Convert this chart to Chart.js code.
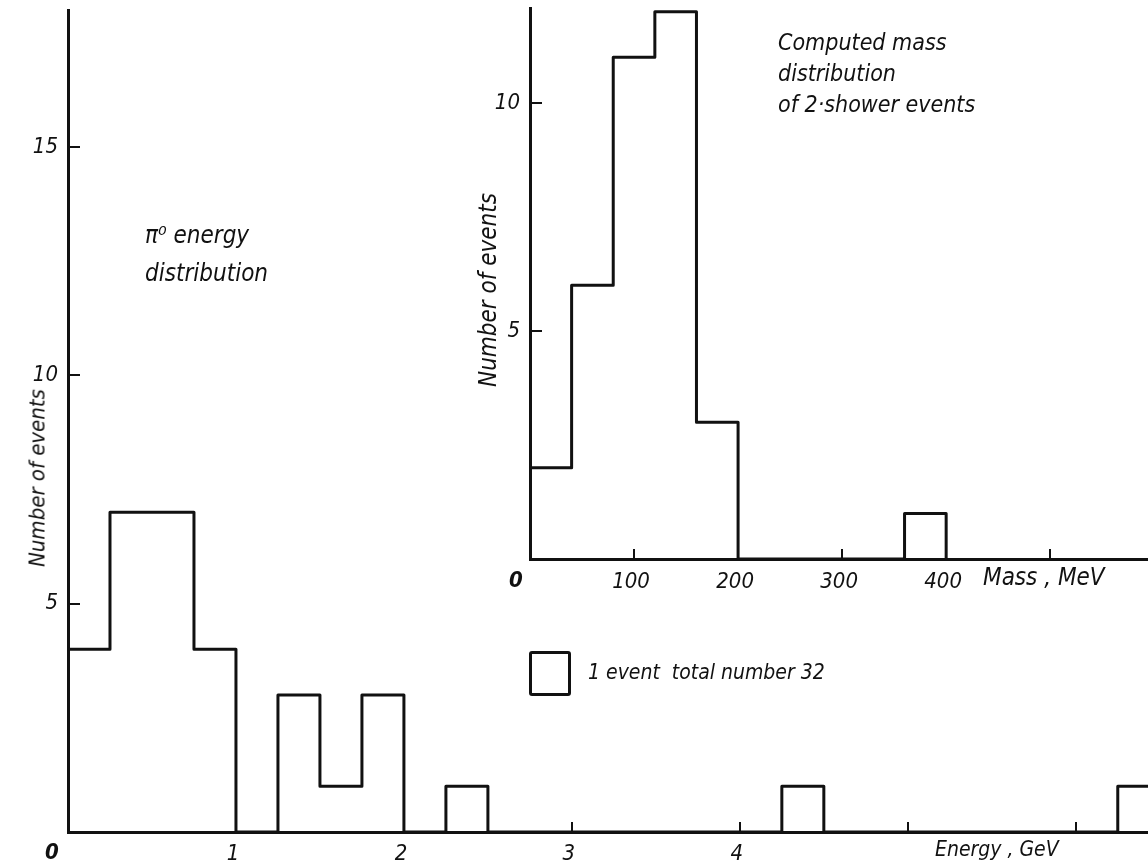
<!DOCTYPE html>
<html>
<head>
<meta charset="utf-8">
<script src="https://cdn.jsdelivr.net/npm/chart.js@4.4.1/dist/chart.umd.min.js"></script>
<style>
  html, body { margin: 0; padding: 0; background: #fff; }
  #wrap { position: relative; width: 1148px; height: 864px; overflow: hidden; }
  canvas { position: absolute; left: 0; top: 0; }
  .t {
    position: absolute;
    font-family: 'Liberation Sans Narrow', 'DejaVu Sans Condensed', sans-serif;
    font-style: italic;
    color: #111;
    white-space: nowrap;
  }
  .c { transform: translate(-50%, -50%); }
  .v { transform: translate(-50%, -50%) rotate(-90deg); }
  .box { position: absolute; border: 3px solid #111; border-radius: 3px; box-sizing: border-box; }
</style>
</head>
<body>
<div id="wrap">
  <canvas id="main" width="1148" height="864"></canvas>
  <canvas id="inset" width="1148" height="864"></canvas>

  <div class="t v" style="left:37px; top:478px; font-size:22px;">Number of events</div>
  <div class="t c" style="left:52px; top:851px; font-size:22px; font-weight:bold;">0</div>
  <div class="t" style="left:935px; top:837px; font-size:21px;">Energy , GeV</div>
  <div class="t" style="left:145px; top:216px; font-size:24px; line-height:38px;">π⁰ energy<br>distribution</div>

  <div class="t v" style="left:488px; top:290px; font-size:24px;">Number of events</div>
  <div class="t c" style="left:516px; top:579px; font-size:22px; font-weight:bold;">0</div>
  <div class="t" style="left:983px; top:563px; font-size:24px;">Mass , MeV</div>
  <div class="t" style="left:778px; top:27px; font-size:23px; line-height:31px;">Computed mass<br>distribution<br>of 2·shower events</div>

  <div class="box" style="left:529px; top:651px; width:42px; height:45px;"></div>
  <div class="t" style="left:588px; top:660px; font-size:21px;">1 event &nbsp;total number 32</div>
</div>

<script>
// pi0 energy histogram, bins of 0.25 GeV
const energyEdges = [0, 0.25, 0.5, 0.75, 1, 1.25, 1.5, 1.75, 2, 2.25, 2.5, 2.75, 3, 3.25,
  3.5, 3.75, 4, 4.25, 4.5, 4.75, 5, 5.25, 5.5, 5.75, 6, 6.25, 6.5];
const energyCounts = [4, 7, 7, 4, 0, 3, 1, 3, 0, 1, 0, 0, 0, 0,
  0, 0, 0, 1, 0, 0, 0, 0, 0, 0, 0, 1];
const energyTicks = [0, 1, 2, 3, 4, 5, 6];
const energyLabels = ["", "1", "2", "3", "4", "", ""];
const countTicksMain = [0, 5, 10, 15];

// computed mass of 2-shower events, bins of 40 MeV
const massEdges = [0, 40, 80, 120, 160, 200, 240, 280, 320, 360, 400];
const massCounts = [2, 6, 11, 12, 3, 0, 0, 0, 0, 1];
const massTicks = [0, 100, 200, 300, 400, 500];
const massLabels = ["", "100", "200", "300", "400", ""];
const countTicksInset = [0, 5, 10];

const FONT = "'Liberation Sans Narrow', 'DejaVu Sans Condensed', sans-serif";
const INK = "#111";

function histPoints(edges, counts) {
  var pts = [];
  for (var i = 0; i < counts.length; i++) pts.push({ x: edges[i], y: counts[i] });
  pts.push({ x: edges[edges.length - 1], y: 0 });
  return pts;
}

// no extra room for labels at the axis ends, the plot runs right to the edge
function noPad(s) {
  s.paddingTop = 0; s.paddingBottom = 0; s.paddingLeft = 0; s.paddingRight = 0;
}

// tick marks drawn inside the plot area, like the drafted original
const inTicks = {
  id: "inTicks",
  afterDraw(chart, args, opts) {
    var ctx = chart.ctx, xs = chart.scales.x, ys = chart.scales.y;
    ctx.save();
    ctx.strokeStyle = INK;
    ctx.lineWidth = 2;
    ctx.beginPath();
    xs.ticks.forEach(function (t) {
      if (t.value === 0) return;
      var px = Math.round(xs.getPixelForValue(t.value));
      ctx.moveTo(px, ys.bottom);
      ctx.lineTo(px, ys.bottom - opts.x);
    });
    ys.ticks.forEach(function (t) {
      if (t.value === 0) return;
      var py = Math.round(ys.getPixelForValue(t.value));
      ctx.moveTo(xs.left, py);
      ctx.lineTo(xs.left + opts.y, py);
    });
    ctx.stroke();
    ctx.restore();
  }
};

function makeHist(id, o) {
  return new Chart(document.getElementById(id), {
    type: "line",
    data: {
      datasets: [{
        data: histPoints(o.edges, o.counts),
        stepped: true,
        borderColor: INK,
        borderWidth: 3,
        pointRadius: 0,
        fill: false,
        borderJoinStyle: "round"
      }]
    },
    options: {
      responsive: false,
      animation: false,
      layout: { padding: { top: o.top, right: 0, left: 0, bottom: 0 } },
      plugins: {
        legend: { display: false },
        tooltip: { enabled: false },
        inTicks: { x: 10, y: 12 }
      },
      scales: {
        x: {
          type: "linear",
          min: 0,
          max: o.xMax,
          afterFit: function (s) { s.height = o.xH; noPad(s); },
          afterBuildTicks: function (s) { s.ticks = o.xTicks.map(function (v) { return { value: v }; }); },
          grid: { display: false },
          border: { display: true, color: INK, width: 3 },
          ticks: {
            autoSkip: false,
            maxRotation: 0,
            padding: o.xPad,
            labelOffset: -3,
            color: INK,
            font: { family: FONT, size: 22, style: "italic" },
            callback: function (v, i) { return o.xLabels[i]; }
          }
        },
        y: {
          min: 0,
          max: o.yMax,
          afterFit: function (s) { s.width = o.yW; noPad(s); },
          afterBuildTicks: function (s) { s.ticks = o.yTicks.map(function (v) { return { value: v }; }); },
          grid: { display: false },
          border: { display: true, color: INK, width: 3 },
          ticks: {
            padding: 2,
            color: INK,
            font: { family: FONT, size: 22, style: "italic" },
            callback: function (v) { return v === 0 ? "" : String(v); }
          }
        }
      }
    },
    plugins: [inTicks]
  });
}

makeHist("main", {
  edges: energyEdges, counts: energyCounts,
  xMax: 6.43, yMax: 18, top: 10, xH: 32, yW: 68, xPad: 1,
  xTicks: energyTicks, xLabels: energyLabels, yTicks: countTicksMain
});

makeHist("inset", {
  edges: massEdges, counts: massCounts,
  xMax: 594, yMax: 12.08, top: 8, xH: 305, yW: 530, xPad: 2,
  xTicks: massTicks, xLabels: massLabels, yTicks: countTicksInset
});
</script>
</body>
</html>
